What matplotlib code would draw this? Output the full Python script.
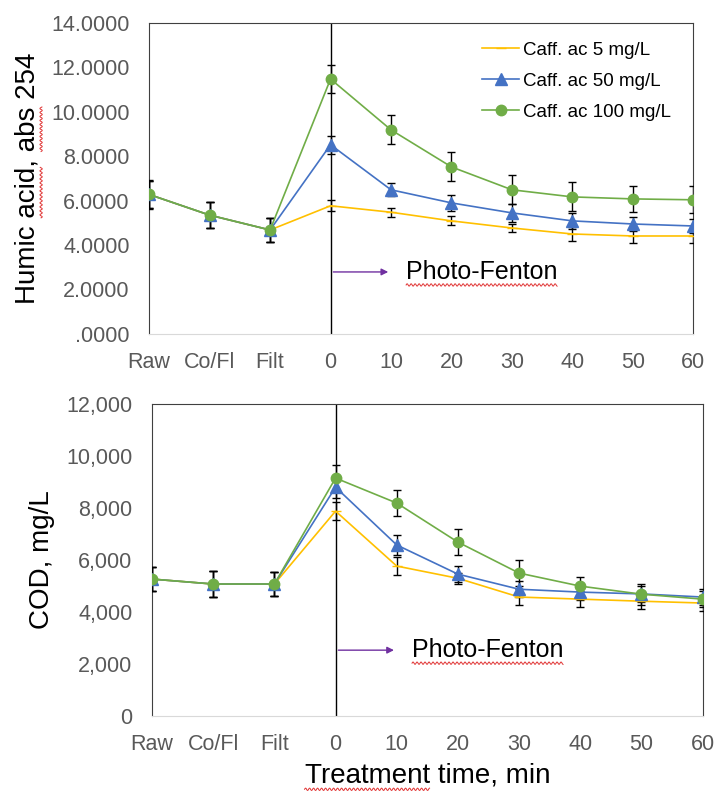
import numpy as np
import matplotlib.pyplot as plt
from matplotlib.lines import Line2D

plt.rcParams['font.family'] = ['Liberation Sans', 'DejaVu Sans']

# ----------------------------
# Data
# ----------------------------
stages = ["Raw", "Co/Fl", "Filt", "0", "10", "20", "30", "40", "50", "60"]
labels = ["Caff. ac 5 mg/L", "Caff. ac 50 mg/L", "Caff. ac 100 mg/L"]

# Humic acid, abs 254
ha_5 = [6.28, 5.35, 4.68, 5.77, 5.48, 5.09, 4.77, 4.50, 4.41, 4.41]
ha_50 = [6.28, 5.35, 4.68, 8.52, 6.49, 5.90, 5.45, 5.09, 4.95, 4.86]
ha_100 = [6.28, 5.35, 4.68, 11.48, 9.19, 7.52, 6.49, 6.17, 6.08, 6.04]
ha_5_err = [0.6, 0.6, 0.55, 0.25, 0.2, 0.2, 0.2, 0.3, 0.3, 0.3]
ha_50_err = [0.6, 0.6, 0.55, 0.4, 0.3, 0.35, 0.4, 0.35, 0.3, 0.3]
ha_100_err = [0.65, 0.6, 0.55, 0.65, 0.65, 0.65, 0.65, 0.65, 0.6, 0.6]

# COD, mg/L
cod_5 = [5270, 5080, 5080, 7880, 5770, 5300, 4580, 4500, 4420, 4350]
cod_50 = [5270, 5080, 5080, 8800, 6580, 5460, 4880, 4770, 4700, 4580]
cod_100 = [5270, 5080, 5080, 9150, 8190, 6690, 5500, 5000, 4690, 4500]
cod_5_err = [450, 500, 450, 350, 350, 200, 300, 300, 300, 300]
cod_50_err = [450, 500, 450, 400, 400, 300, 300, 300, 300, 300]
cod_100_err = [450, 500, 450, 500, 500, 500, 500, 350, 400, 300]

colors = ["#FFC000", "#4472C4", "#70AD47"]
markers = ["_", "^", "o"]
msizes = [7, 8, 7.5]
tick_color = "#595959"

x = np.arange(len(stages))

fig = plt.figure(figsize=(7.17, 7.95), dpi=100)
ax1 = fig.add_axes([0.208, 0.580, 0.759, 0.391])
ax2 = fig.add_axes([0.212, 0.099, 0.768, 0.393])


def draw(ax, series, errs, ylim, yticks, yfmt, arrow_y):
    for vals, err, c, m, ms in zip(series, errs, colors, markers, msizes):
        ax.errorbar(x, vals, yerr=err, color=c, marker=m, markersize=ms,
                    lw=1.2, ecolor="black", elinewidth=1, capsize=3,
                    capthick=1, zorder=3)
    ax.axvline(3, color="black", lw=1, zorder=2)
    ax.set_xlim(0, 9)
    ax.set_ylim(*ylim)
    ax.set_yticks(yticks)
    ax.set_yticklabels([yfmt(v) for v in yticks])
    ax.set_xticks(x)
    ax.set_xticklabels(stages)
    ax.tick_params(length=0, labelsize=15.5, colors=tick_color)
    ax.tick_params(axis="x", pad=13)
    ax.tick_params(axis="y", pad=14)
    for s in ["left", "top", "right"]:
        ax.spines[s].set_color("#404040")
    ax.spines["bottom"].set_color("#D9D9D9")
    ax.annotate("", xy=(4.0, arrow_y), xytext=(3, arrow_y),
                arrowprops=dict(arrowstyle="-|>", color="#7030A0", lw=1,
                                mutation_scale=10))
    return ax.text(4.25, arrow_y, "Photo-Fenton", fontsize=18,
                   va="center", ha="left")


def fmt_ha(v):
    s = f"{v:.4f}"
    return s[1:] if v == 0 else s


pf1 = draw(ax1, [ha_5, ha_50, ha_100], [ha_5_err, ha_50_err, ha_100_err],
           (0, 14), np.arange(0, 15, 2), fmt_ha, 2.79)
yl1 = ax1.set_ylabel("Humic acid, abs 254", fontsize=20, labelpad=8)
handles = [Line2D([], [], color=c, marker=m, markersize=ms, lw=1.2)
           for c, m, ms in zip(colors, markers, msizes)]
ax1.legend(handles, labels, loc="upper right", bbox_to_anchor=(0.99, 0.995),
           frameon=False, fontsize=13.5, handlelength=2.0, handletextpad=0.2,
           labelspacing=0.75)

pf2 = draw(ax2, [cod_5, cod_50, cod_100], [cod_5_err, cod_50_err, cod_100_err],
           (0, 12000), np.arange(0, 12001, 2000), lambda v: f"{int(v):,}", 2540)
yl2 = ax2.set_ylabel("COD, mg/L", fontsize=20, labelpad=8)
xl2 = ax2.set_xlabel("Treatment time, min", fontsize=20, labelpad=5)


# red wavy spell-check underlines, as in the original screenshot
fig.canvas.draw()
renderer = fig.canvas.get_renderer()
to_fig = fig.transFigure.inverted()


def squiggle(t, prefix, word, vertical=False):
    fp = t.get_fontproperties()
    w0 = renderer.get_text_width_height_descent(prefix, fp, ismath=False)[0]
    w1 = renderer.get_text_width_height_descent(word, fp, ismath=False)[0]
    bb = t.get_window_extent(renderer)
    s = np.arange(0, w1, 0.5)
    wave = 1.2 * np.sin(s * np.pi / 2.0)
    if vertical:
        px = bb.x1 + 1 + wave
        py = bb.y0 + w0 + s
    else:
        px = bb.x0 + w0 + s
        py = bb.y0 - 1 + wave
    pts = to_fig.transform(np.column_stack([px, py]))
    fig.add_artist(Line2D(pts[:, 0], pts[:, 1], color="#E03030", lw=0.7,
                          transform=fig.transFigure))


squiggle(pf1, "", "Photo-Fenton")
squiggle(pf2, "", "Photo-Fenton")
squiggle(yl1, "Humic ", "acid", vertical=True)
squiggle(yl1, "Humic acid, ", "abs", vertical=True)
squiggle(xl2, "", "Treatment")

fig.savefig("out.png", dpi=100)
